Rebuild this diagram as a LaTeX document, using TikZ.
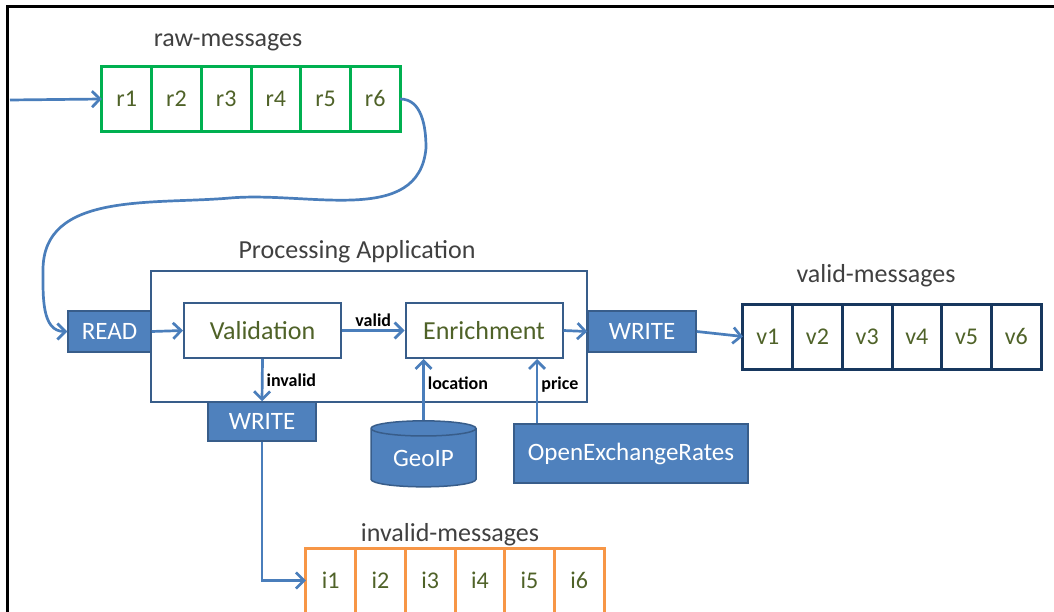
\documentclass[tikz,border=0pt]{standalone}
\usepackage{fontspec}
\setmainfont{Carlito}
\usetikzlibrary{matrix,arrows.meta,shapes.geometric}

\definecolor{ioblue}{HTML}{4F81BD}
\definecolor{ioedge}{HTML}{385D8A}
\definecolor{ioend}{HTML}{95B3D7}
\definecolor{flowblue}{HTML}{4A7EBB}
\definecolor{olive}{HTML}{4F6228}
\definecolor{rawgreen}{HTML}{00B050}
\definecolor{validnavy}{HTML}{17375E}
\definecolor{invalidorange}{HTML}{F79646}
\definecolor{headgrey}{HTML}{404040}

\tikzset{
  cell/.style={outer sep=0pt, rectangle, draw, line width=3pt, inner sep=0pt,
    anchor=center, text height=16pt, text depth=0pt,
    minimum width=49.7pt, minimum height=65pt, text=olive,
    font=\fontsize{24}{24}\selectfont},
  heading/.style={text=headgrey, font=\fontsize{26}{26}\selectfont},
  stage/.style={draw=ioedge, line width=2pt, fill=white, minimum width=157pt,
    minimum height=55pt, text=olive, font=\fontsize{26}{26}\selectfont},
  io/.style={draw=ioedge, fill=ioblue, line width=1.5pt, text=white, inner sep=0pt,
    font=\fontsize{25}{25}\selectfont},
  tag/.style={text=black, inner sep=3pt, font=\bfseries\fontsize{18}{18}\selectfont},
  flow/.style={draw=flowblue, line width=2.7pt, -{Straight Barb[length=8pt,width=16pt]}}
}

% one topic queue: name, centre, border colour, cell prefix
\newcommand\Queue[4]{
    \matrix (#1) at (#2)
    [matrix of nodes,
    ampersand replacement=\&,
    column sep={-3pt},
    nodes={cell, draw=#3} ]
    {
     #41 \& #42 \& #43 \& #44 \& #45 \& #46 \\
    };
}

\begin{document}
\begin{tikzpicture}[x=1pt, y=-1pt]
    \useasboundingbox (0,0) rectangle (1054,612);
    \clip (0,0) rectangle (1054,612);
    \draw[black, line width=3pt] (7,614) -- (7,7) -- (1056,7);

    % queues
    \Queue{raw}{251,99}{rawgreen}{r}
    \Queue{valid}{892,336.5}{validnavy}{v}
    \Queue{invalid}{455,580.5}{invalidorange}{i}
    \node[heading] (rawtitle) at (228,42) {raw-messages};
    \node[heading] (validtitle) at (876,276) {valid-messages};
    \node[heading] (invalidtitle) at (450,535) {invalid-messages};

    % the application
    \node[draw=ioedge, line width=2pt, minimum width=436pt, minimum height=131pt] (app) at (369,336.5) {};
    \node[heading] (apptitle) at (357,252) {Processing Application};
    \node[io, minimum width=83pt, minimum height=41pt] (read) at (109.5,331.5) {READ};
    \node[stage] (check) at (262.5,330.5) {Validation};
    \node[stage] (enrich) at (484,330.5) {Enrichment};
    \node[io, minimum width=108pt, minimum height=41pt] (writeok) at (642,331.5) {WRITE};
    \node[io, minimum width=108pt, minimum height=39pt] (writebad) at (262,421.5) {WRITE};
    \node[io, cylinder, shape border rotate=90, aspect=0.25, cylinder uses custom fill,
      cylinder body fill=ioblue, cylinder end fill=ioend,
      minimum width=105pt, minimum height=66pt] (geoip) at (423.5,458) {GeoIP};
    \node[io, minimum width=234pt, minimum height=59pt] (rates) at (631,453.5) {OpenExchangeRates};

    \coordinate (src) at (10,100);
    \coordinate (pricein) at ([xshift=53pt]enrich.south);

    \draw[flow] (src) -- (raw-1-1.west);
    \draw[flow] (raw-1-6.east) to[out=0,in=90] (426,148) to[out=-95,in=5] (230,198)
      to[out=185,in=90] (43,270) to[out=-90,in=180] (read.west);
    \draw[flow] (read.east) -- (check.west);
    \draw[flow] (check.east) -- node[tag, above] {valid} (enrich.west);
    \draw[flow] (enrich.east) -- (writeok.west);
    \draw[flow] (writeok.east) -- (valid-1-1.west);
    \draw[flow] (check.south) -- node[tag, right] {invalid} (writebad.north);
    \draw[flow] (writebad.south) |- (invalid-1-1.west);
    \draw[flow] (geoip.north) -- node[tag, right, pos=0.6] {location} (geoip.north |- enrich.south);
    \draw[flow] (rates.north -| pricein) -- node[tag, right, pos=0.6] {price} (pricein);
\end{tikzpicture}
\end{document}
